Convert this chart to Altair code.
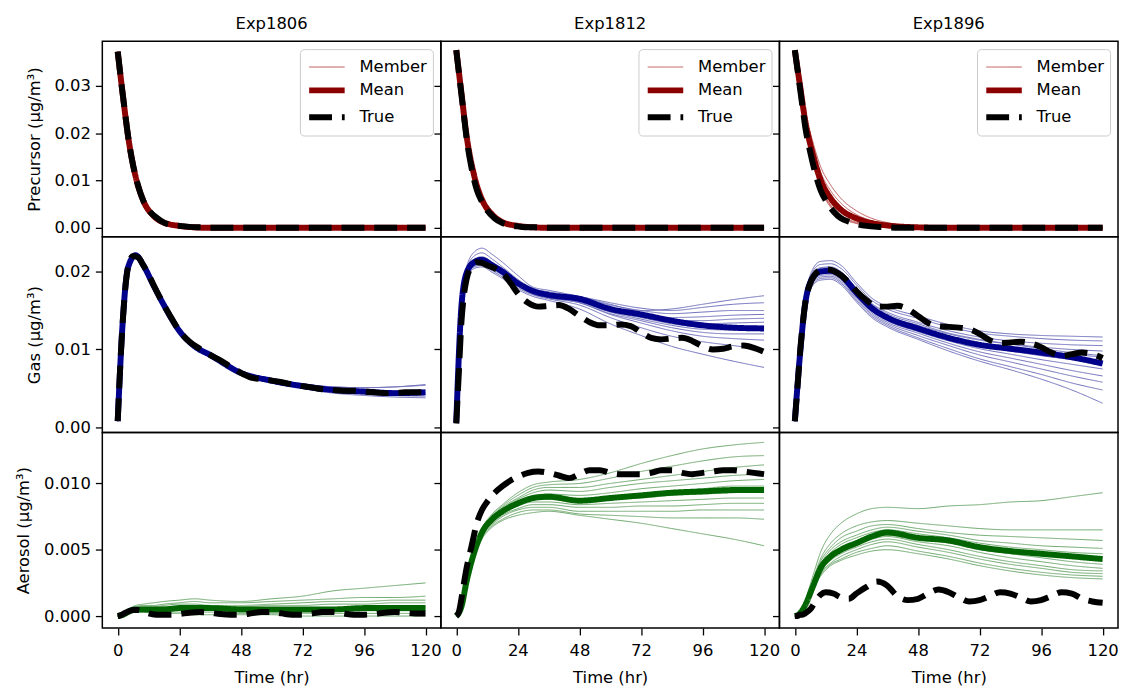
import altair as alt
import pandas as pd

# time grids (hr): ensemble members / mean, and the "true" run
T_ENS = [0, 2, 4, 7, 10, 14, 18, 24, 30, 36, 48, 60, 72, 84, 96, 108, 120]
T_TRUE = [0, 1, 2, 3, 4, 6, 8, 10, 12, 15, 18, 21, 24, 28, 32, 36, 40, 44, 48, 52,
          56, 60, 64, 68, 72, 76, 80, 84, 88, 92, 96, 100, 104, 108, 112, 116, 120]

UNIT = 1e-4  # all values below are in 1e-4 ug/m3

# ---- Precursor ----
prec_1806_members = [
    [372, 281, 196, 109, 58, 26, 11, 4, 1, 0, 0, 0, 0, 0, 0, 0, 0],
    [372, 279, 194, 107, 56, 25, 10, 3, 1, 0, 0, 0, 0, 0, 0, 0, 0],
    [372, 280, 196, 109, 57, 26, 12, 4, 1, 0, 0, 0, 0, 0, 0, 0, 0],
]
prec_1806_mean = [372, 280, 195, 108, 57, 25, 11, 4, 1, 0, 0, 0, 0, 0, 0, 0, 0]
prec_1806_true = [372, 325, 280, 237, 195, 132, 88, 57, 38, 22, 11, 6, 4, 2, 1, 0, 0, 0, 0, 0,
                  0, 0, 0, 0, 0, 0, 0, 0, 0, 0, 0, 0, 0, 0, 0, 0, 0]

prec_1812_members = [
    [375, 286, 197, 113, 63, 31, 14, 5, 2, 1, 0, 0, 0, 0, 0, 0, 0],
    [375, 285, 195, 110, 60, 28, 12, 4, 1, 0, 0, 0, 0, 0, 0, 0, 0],
    [375, 284, 193, 107, 57, 26, 11, 4, 1, 0, 0, 0, 0, 0, 0, 0, 0],
    [375, 286, 198, 114, 64, 32, 15, 6, 2, 1, 0, 0, 0, 0, 0, 0, 0],
    [375, 283, 192, 106, 56, 25, 10, 3, 1, 0, 0, 0, 0, 0, 0, 0, 0],
]
prec_1812_mean = [375, 285, 195, 110, 60, 28, 12, 4, 1, 0, 0, 0, 0, 0, 0, 0, 0]
prec_1812_true = [375, 328, 282, 236, 190, 125, 80, 55, 37, 20, 10, 5, 3, 1, 1, 0, 0, 0, 0, 0,
                  0, 0, 0, 0, 0, 0, 0, 0, 0, 0, 0, 0, 0, 0, 0, 0, 0]

prec_1896_members = [
    [375, 298, 220, 142, 88, 48, 26, 12, 5, 2, 0, 0, 0, 0, 0, 0, 0],
    [375, 302, 230, 158, 105, 65, 40, 20, 10, 5, 1, 0, 0, 0, 0, 0, 0],
    [375, 305, 238, 170, 118, 78, 52, 28, 15, 8, 2, 0, 0, 0, 0, 0, 0],
    [375, 296, 216, 138, 83, 43, 22, 9, 4, 1, 0, 0, 0, 0, 0, 0, 0],
    [375, 300, 226, 152, 98, 58, 34, 17, 8, 4, 1, 0, 0, 0, 0, 0, 0],
    [375, 308, 245, 182, 130, 90, 62, 36, 20, 11, 3, 1, 0, 0, 0, 0, 0],
    [375, 297, 218, 140, 85, 46, 24, 10, 4, 2, 0, 0, 0, 0, 0, 0, 0],
    [375, 303, 233, 163, 110, 70, 45, 24, 12, 6, 1, 0, 0, 0, 0, 0, 0],
]
prec_1896_mean = [375, 301, 228, 156, 102, 62, 38, 20, 10, 5, 1, 0, 0, 0, 0, 0, 0]
prec_1896_true = [375, 335, 295, 255, 215, 160, 115, 80, 58, 35, 20, 13, 8, 4, 2, 1, 0, 0, 0, 0,
                  0, 0, 0, 0, 0, 0, 0, 0, 0, 0, 0, 0, 0, 0, 0, 0, 0]

# ---- Gas ----
gas_1806_members = [
    [8, 138, 205, 221, 208, 182, 157, 124, 104, 93, 71, 62, 56, 52, 51, 52, 55],
    [8, 138, 205, 221, 208, 182, 157, 124, 104, 93, 70, 60, 53, 48, 46, 45, 45],
    [8, 138, 205, 221, 208, 182, 157, 124, 104, 92, 69, 58, 51, 46, 43, 41, 40],
    [8, 138, 205, 221, 208, 182, 158, 125, 105, 94, 71, 63, 56, 52, 51, 52, 54],
    [8, 138, 205, 221, 208, 182, 157, 123, 103, 92, 69, 59, 52, 47, 44, 42, 42],
    [8, 138, 205, 221, 208, 182, 157, 124, 104, 93, 70, 61, 54, 49, 47, 47, 48],
    [8, 138, 205, 221, 208, 182, 156, 123, 103, 91, 68, 57, 50, 44, 41, 39, 38],
]
gas_1806_mean = [8, 138, 205, 221, 208, 182, 157, 124, 104, 93, 70, 60, 53, 48, 46, 44, 45]
gas_1806_true = [8, 80, 138, 180, 205, 220, 218, 208, 196, 176, 157, 140, 124, 110, 101, 93,
                 86, 78, 70, 64, 62, 60, 58, 55, 53, 51, 49, 48, 47, 47, 46, 45, 44, 44, 45, 45, 45]

gas_1812_members = [
    [6, 160, 205, 225, 230, 222, 212, 195, 180, 176, 168, 158, 150, 152, 158, 164, 169],
    [6, 158, 202, 220, 224, 216, 206, 190, 178, 174, 168, 160, 153, 150, 154, 158, 160],
    [6, 156, 200, 216, 219, 212, 203, 188, 177, 172, 166, 157, 150, 146, 148, 150, 150],
    [6, 155, 198, 213, 216, 209, 201, 186, 176, 171, 165, 154, 147, 141, 142, 144, 145],
    [6, 154, 197, 211, 214, 207, 199, 184, 174, 170, 163, 152, 145, 138, 137, 139, 140],
    [6, 155, 198, 212, 215, 208, 200, 185, 175, 170, 164, 151, 144, 136, 133, 134, 135],
    [6, 153, 196, 209, 212, 205, 197, 183, 173, 168, 162, 149, 141, 133, 129, 129, 130],
    [6, 154, 197, 211, 213, 206, 198, 183, 173, 168, 161, 148, 139, 131, 126, 125, 125],
    [6, 152, 194, 207, 210, 203, 195, 181, 171, 166, 160, 146, 137, 128, 122, 120, 120],
    [6, 153, 195, 208, 211, 204, 196, 182, 172, 167, 160, 145, 134, 124, 117, 114, 112],
    [6, 151, 193, 206, 208, 201, 193, 179, 170, 165, 157, 141, 128, 117, 110, 105, 100],
    [6, 150, 191, 204, 206, 199, 191, 177, 168, 163, 152, 133, 118, 104, 94, 85, 77],
]
gas_1812_mean = [6, 155, 198, 212, 215, 208, 200, 185, 175, 170, 165, 152, 145, 137, 131, 128, 127]
gas_1812_true = [5, 70, 135, 170, 190, 207, 212, 211, 208, 204, 198, 186, 172, 160, 155, 156,
                 157, 152, 143, 135, 131, 131, 132, 130, 122, 115, 113, 114, 115, 111, 104, 100,
                 101, 104, 105, 102, 97]

gas_1896_members = [
    [8, 100, 165, 203, 213, 214, 208, 186, 166, 155, 143, 132, 124, 120, 118, 117, 116],
    [8, 98, 163, 200, 209, 210, 204, 183, 163, 152, 140, 129, 121, 117, 114, 112, 111],
    [8, 96, 161, 197, 205, 206, 200, 179, 159, 148, 135, 124, 116, 111, 108, 106, 105],
    [8, 94, 159, 194, 202, 203, 197, 176, 156, 144, 131, 120, 112, 107, 103, 100, 98],
    [8, 93, 158, 192, 200, 201, 195, 173, 153, 141, 127, 116, 108, 103, 98, 94, 90],
    [8, 92, 156, 190, 198, 199, 193, 171, 151, 139, 125, 113, 104, 98, 92, 87, 82],
    [8, 91, 155, 189, 197, 198, 191, 169, 149, 137, 123, 111, 101, 94, 87, 81, 75],
    [8, 90, 154, 188, 195, 196, 189, 167, 147, 135, 121, 108, 97, 89, 81, 73, 66],
    [8, 89, 152, 186, 193, 194, 187, 165, 145, 133, 118, 105, 93, 84, 75, 66, 58],
    [8, 88, 150, 184, 191, 192, 185, 163, 143, 131, 115, 101, 88, 78, 68, 57, 48],
    [8, 87, 149, 182, 189, 190, 183, 161, 141, 129, 113, 98, 85, 74, 62, 48, 31],
    [8, 95, 160, 195, 204, 205, 199, 178, 158, 146, 133, 121, 113, 107, 101, 96, 92],
]
gas_1896_mean = [8, 93, 158, 192, 200, 201, 195, 173, 153, 141, 127, 115, 106, 101, 96, 90, 82]
gas_1896_true = [8, 50, 95, 130, 158, 185, 197, 202, 203, 201, 195, 186, 175, 163, 155, 155,
                 156, 152, 143, 134, 130, 129, 128, 126, 120, 112, 108, 109, 110, 108, 103, 96,
                 92, 94, 96, 94, 89]

# ---- Aerosol ----
aer_1806_members = [
    [0, 2, 5, 8, 9, 10, 11, 12, 13, 12, 11, 13, 15, 19, 21, 23, 25],
    [0, 2, 4, 7, 8, 8, 9, 10, 11, 10, 10, 11, 12, 13, 14, 14, 15],
    [0, 1, 4, 6, 7, 7, 8, 9, 9, 8, 8, 9, 10, 11, 11, 12, 12],
    [0, 1, 3, 6, 6, 6, 7, 7, 8, 7, 7, 8, 8, 9, 9, 10, 10],
    [0, 1, 3, 5, 5, 5, 5, 6, 6, 6, 5, 6, 6, 6, 7, 7, 7],
    [0, 1, 3, 5, 5, 4, 4, 5, 5, 5, 4, 4, 4, 4, 4, 4, 4],
    [0, 1, 2, 4, 4, 3, 3, 3, 3, 3, 2, 2, 2, 2, 2, 2, 2],
    [0, 1, 2, 3, 3, 2, 2, 2, 1, 1, 1, 1, 0, 0, 0, 0, 0],
    [0, 1, 3, 5, 5, 5, 5, 5, 6, 5, 5, 5, 5, 5, 6, 6, 6],
]
aer_1806_mean = [0, 1, 3, 5, 5, 5, 5, 6, 6, 6, 5, 5, 5, 5, 6, 6, 6]
aer_1806_true = [0, 0.5, 1.5, 2.5, 3.5, 4.5, 4.5, 3.5, 2, 1, 1, 1, 1.5, 2.5, 3, 2.5, 1.5, 1, 1,
                 2, 3, 3, 2, 1, 1, 2, 3, 3, 2, 1, 1, 1.5, 2.5, 3, 2.5, 2, 2]

aer_1812_members = [
    [0, 7, 27, 50, 66, 77, 84, 93, 99, 101, 103, 108, 115, 121, 126, 129, 131],
    [0, 7, 27, 50, 65, 76, 83, 91, 97, 99, 100, 104, 109, 113, 117, 120, 121],
    [0, 7, 27, 49, 65, 75, 82, 89, 95, 97, 97, 100, 103, 106, 109, 112, 114],
    [0, 7, 26, 49, 64, 74, 81, 88, 93, 95, 94, 97, 100, 102, 104, 106, 107],
    [0, 7, 26, 48, 63, 73, 80, 86, 91, 92, 91, 93, 96, 98, 100, 102, 103],
    [0, 7, 26, 48, 63, 73, 79, 85, 89, 90, 88, 90, 92, 94, 96, 98, 98],
    [0, 7, 26, 48, 62, 72, 78, 84, 88, 88, 86, 88, 89, 91, 92, 93, 94],
    [0, 7, 25, 47, 62, 71, 77, 83, 86, 86, 84, 85, 86, 87, 88, 89, 89],
    [0, 7, 25, 47, 61, 70, 76, 81, 84, 84, 82, 82, 83, 83, 84, 85, 85],
    [0, 6, 25, 46, 60, 69, 75, 80, 82, 82, 79, 79, 79, 79, 80, 80, 80],
    [0, 6, 24, 45, 59, 68, 73, 78, 80, 80, 77, 76, 75, 74, 74, 74, 73],
    [0, 6, 24, 45, 58, 67, 72, 76, 78, 79, 76, 73, 70, 66, 62, 58, 53],
]
aer_1812_mean = [0, 7, 26, 48, 63, 73, 79, 85, 89, 90, 87, 89, 91, 93, 94, 95, 95]
aer_1812_true = [0, 3, 13, 25, 36, 53, 70, 80, 86, 93, 98, 102, 105, 108, 109, 108, 106, 104,
                 107, 110, 110, 108, 107, 107, 107, 108, 110, 110, 108, 107, 108, 109, 110, 110,
                 109, 108, 107]

aer_1896_members = [
    [0, 3, 12, 30, 48, 62, 70, 77, 81, 82, 81, 83, 84, 86, 87, 90, 93],
    [0, 3, 11, 27, 43, 55, 62, 68, 71, 72, 70, 68, 66, 65, 65, 65, 65],
    [0, 2, 10, 26, 41, 52, 59, 64, 68, 69, 66, 63, 61, 60, 59, 58, 57],
    [0, 2, 10, 25, 39, 50, 56, 61, 65, 67, 64, 61, 57, 55, 53, 52, 51],
    [0, 2, 10, 24, 38, 48, 54, 59, 63, 65, 62, 59, 55, 52, 50, 48, 47],
    [0, 2, 9, 23, 37, 46, 52, 57, 61, 63, 60, 57, 52, 49, 46, 44, 42],
    [0, 2, 9, 23, 36, 45, 50, 55, 59, 61, 58, 55, 50, 47, 44, 41, 39],
    [0, 2, 9, 22, 35, 44, 49, 54, 58, 60, 56, 53, 48, 44, 41, 38, 36],
    [0, 2, 8, 21, 33, 42, 47, 52, 56, 58, 54, 50, 45, 41, 38, 35, 34],
    [0, 2, 8, 21, 32, 40, 45, 50, 54, 56, 52, 48, 43, 39, 36, 33, 32],
    [0, 2, 8, 20, 31, 39, 43, 48, 51, 53, 49, 45, 40, 36, 33, 31, 30],
    [0, 2, 8, 20, 30, 38, 42, 46, 49, 50, 47, 43, 38, 34, 31, 29, 28],
]
aer_1896_mean = [0, 2, 8, 22, 36, 45, 50, 55, 60, 63, 59, 57, 52, 49, 47, 45, 43]
aer_1896_true = [0, 0, 1, 1, 2, 5, 11, 16, 18, 17, 14, 13, 17, 22, 26, 23, 15, 12, 13, 17, 20,
                 18, 14, 11, 12, 15, 18, 17, 14, 11, 12, 15, 18, 17, 13, 11, 10]

EXPERIMENTS = ["Exp1806", "Exp1812", "Exp1896"]
SERIES = ["Member", "Mean", "True"]
X_TICKS = [0, 24, 48, 72, 96, 120]
FONT = "DejaVu Sans"

ROWS = [
    dict(title="Precursor (μg/m³)", color="#8b0000", member="#c05a5a",
         domain=[-0.0019, 0.0394], ticks=[0, 0.01, 0.02, 0.03], fmt=".2f",
         data=[(prec_1806_members, prec_1806_mean, prec_1806_true),
               (prec_1812_members, prec_1812_mean, prec_1812_true),
               (prec_1896_members, prec_1896_mean, prec_1896_true)]),
    dict(title="Gas (μg/m³)", color="#00008b", member="#6f6fbb",
         domain=[-0.00064, 0.02446], ticks=[0, 0.01, 0.02], fmt=".2f",
         data=[(gas_1806_members, gas_1806_mean, gas_1806_true),
               (gas_1812_members, gas_1812_mean, gas_1812_true),
               (gas_1896_members, gas_1896_mean, gas_1896_true)]),
    dict(title="Aerosol (μg/m³)", color="#006400", member="#6fa86f",
         domain=[-0.0009, 0.01385], ticks=[0, 0.005, 0.01], fmt=".3f",
         data=[(aer_1806_members, aer_1806_mean, aer_1806_true),
               (aer_1812_members, aer_1812_mean, aer_1812_true),
               (aer_1896_members, aer_1896_mean, aer_1896_true)]),
]


def to_frame(members, mean, true, key):
    rows = []
    for i, vals in enumerate(members):
        rows += [{"t": t, "v": v * UNIT, key: "Member", "run": f"m{i}"}
                 for t, v in zip(T_ENS, vals)]
    rows += [{"t": t, "v": v * UNIT, key: "Mean", "run": "mean"} for t, v in zip(T_ENS, mean)]
    rows += [{"t": t, "v": v * UNIT, key: "True", "run": "true"} for t, v in zip(T_TRUE, true)]
    return pd.DataFrame(rows)


def panel(row, col, row_idx):
    # a field name of its own per panel, so legends never pick up another panel's scale
    key = f"series_{row_idx}{col}"
    df = to_frame(*row["data"][col], key)
    leg = alt.Legend(title=None, orient="top-right", offset=8) if row_idx == 0 else None
    if row_idx == 2:
        x_axis = alt.Axis(values=X_TICKS, title="Time (hr)")
    else:
        x_axis = None
    if col == 0:
        y_axis = alt.Axis(values=row["ticks"], format=row["fmt"], title=row["title"])
    else:
        y_axis = alt.Axis(values=row["ticks"], labels=False, title=None)
    # mark colour = member colour, so the legend's first symbol falls back to it
    base = alt.Chart(df).mark_line(interpolate="monotone", clip=True, color=row["member"]).encode(
        x=alt.X("t:Q", scale=alt.Scale(domain=[-6, 126], nice=False), axis=x_axis),
        y=alt.Y("v:Q", scale=alt.Scale(domain=row["domain"], nice=False, zero=False), axis=y_axis),
        color=alt.Color(f"{key}:N", scale=alt.Scale(
            domain=SERIES, range=[row["member"], row["color"], "black"]), legend=leg),
        strokeWidth=alt.StrokeWidth(f"{key}:N", scale=alt.Scale(
            type="ordinal", domain=SERIES, range=[1, 6, 6]), legend=leg),
        strokeDash=alt.StrokeDash(f"{key}:N", scale=alt.Scale(
            domain=SERIES, range=[[1, 0], [1, 0], [23, 10]]), legend=leg),
        detail="run:N",
    )
    layers = [base.transform_filter(alt.datum[key] == s) for s in SERIES]
    chart = alt.layer(*layers).properties(width=341, height=197)
    if row_idx == 0:
        chart = chart.properties(title=EXPERIMENTS[col])
    return chart


INDEP = dict(color="independent", strokeWidth="independent", strokeDash="independent")

panels = [panel(row, c, r) for r, row in enumerate(ROWS) for c in range(3)]

chart = alt.concat(*panels, columns=3, spacing=0).properties(
    bounds="flush", padding={"left": 7, "top": 4, "right": 0, "bottom": 0}
).resolve_scale(**INDEP).resolve_legend(**INDEP).configure_view(
    stroke="black", strokeWidth=1.5
).configure_axis(
    domain=False, grid=False, tickColor="black", tickWidth=1.3, tickSize=7,
    labelFont=FONT, labelFontSize=16.5, labelColor="black",
    titleFont=FONT, titleFontSize=16.5, titleFontWeight="normal", titleColor="black",
).configure_axisX(
    labelPadding=8, titlePadding=10
).configure_axisY(
    labelPadding=5, titlePadding=12
).configure_title(
    font=FONT, fontSize=16.5, fontWeight="normal", color="black", offset=9
).configure_legend(
    labelFont=FONT, labelFontSize=16.5, labelColor="black", symbolSize=500,
    symbolType="M-1,0H2.2", symbolOpacity=1, fillColor="white", strokeColor="#cccccc",
    cornerRadius=4, padding=6, rowPadding=-2, labelOffset=25
)

chart.save("out.html", embed_options={"renderer": "svg", "actions": False})
